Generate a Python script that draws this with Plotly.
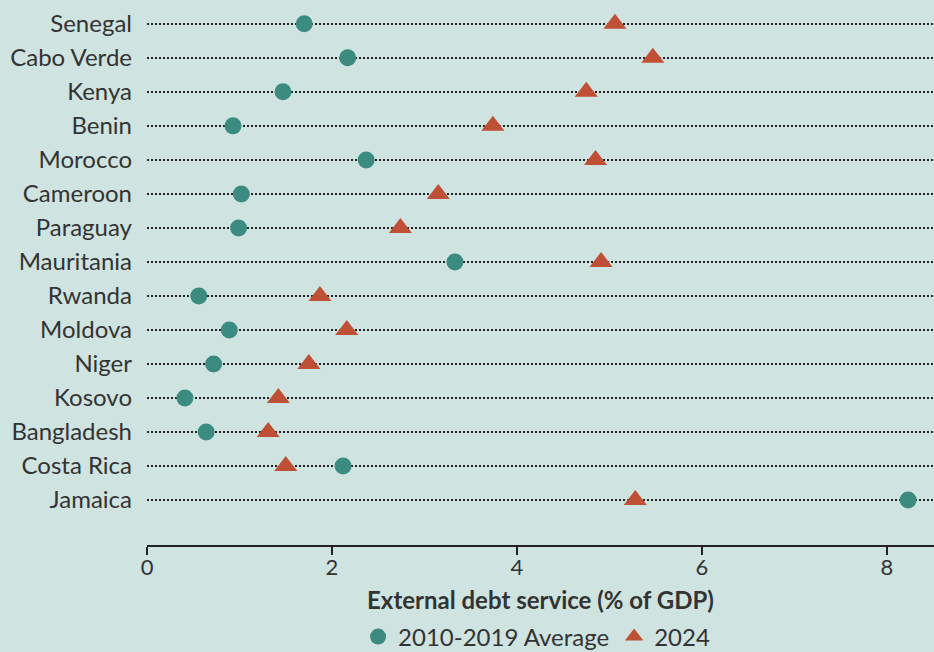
import plotly.graph_objects as go

countries = ["Senegal", "Cabo Verde", "Kenya", "Benin", "Morocco", "Cameroon", "Paraguay",
             "Mauritania", "Rwanda", "Moldova", "Niger", "Kosovo", "Bangladesh", "Costa Rica", "Jamaica"]
avg_2010_2019 = [1.70, 2.17, 1.47, 0.93, 2.37, 1.02, 0.99, 3.33, 0.56, 0.89, 0.72, 0.41, 0.64, 2.12, 8.23]
val_2024 = [5.06, 5.47, 4.75, 3.74, 4.85, 3.15, 2.74, 4.91, 1.87, 2.16, 1.75, 1.42, 1.31, 1.50, 5.28]
x_ticks = [0, 2, 4, 6, 8]

BG = "#cfe3e0"
TEAL = "#3b8b80"
RED = "#bf5035"
FONT = "Lato, 'Open Sans', sans-serif"

fig = go.Figure()
fig.add_trace(go.Scatter(
    x=avg_2010_2019, y=countries, mode="markers", name="2010-2019 Average",
    marker=dict(symbol="circle", size=17, color=TEAL),
))
fig.add_trace(go.Scatter(
    x=val_2024, y=countries, mode="markers", name="2024",
    marker=dict(symbol="triangle-up", size=20, color=RED),
))

fig.update_layout(
    width=934, height=652,
    paper_bgcolor=BG, plot_bgcolor=BG,
    margin=dict(l=147, r=0, t=0, b=107),
    font=dict(family=FONT, color="#333333", size=22),
    showlegend=True,
    legend=dict(orientation="h", x=0.495, xanchor="center", yref="container", y=0.023,
                yanchor="middle", font=dict(size=24, color="#333333"),
                bgcolor="rgba(0,0,0,0)", itemwidth=30, tracegroupgap=0),
    xaxis=dict(
        range=[0, 8.51], tickvals=x_ticks, showgrid=False, zeroline=False,
        showline=True, linecolor="#222222", linewidth=2,
        ticks="outside", ticklen=8, tickwidth=2, tickcolor="#222222",
        ticklabelstandoff=-6,
        tickfont=dict(size=22, color="#333333"),
        title=dict(text="<b>External debt service (% of GDP)</b>", standoff=14,
                   font=dict(size=24, color="#333333")),
    ),
    yaxis=dict(
        categoryorder="array", categoryarray=countries[::-1],
        range=[-1.32, 14.7], showgrid=True, gridcolor="#222222", gridwidth=1.5,
        griddash="1.5px,2.5px", zeroline=False, showline=False, ticks="",
        ticklabelstandoff=14, tickfont=dict(size=24, color="#333333"),
    ),
)

fig.write_html("out.html", config={"displayModeBar": False},
               post_script="document.body.style.margin='0';")
